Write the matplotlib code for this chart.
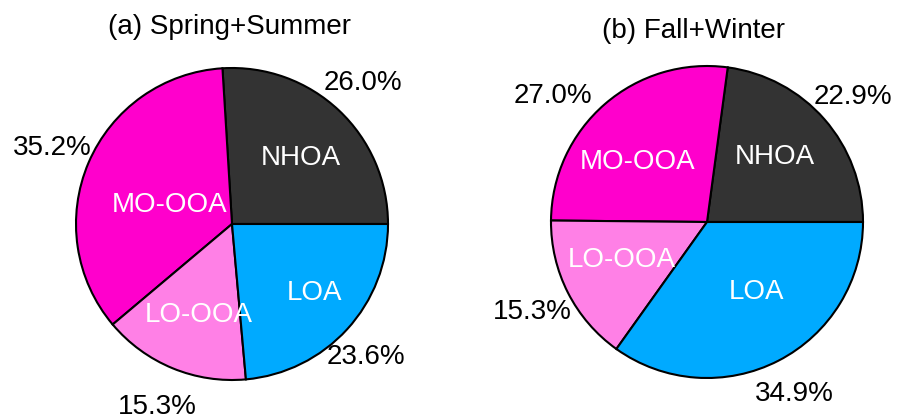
import matplotlib.pyplot as plt
import numpy as np

plt.rcParams['font.family'] = ['Liberation Sans', 'DejaVu Sans']

# factor names, drawn counterclockwise from 3 o'clock
factors = ['NHOA', 'MO-OOA', 'LO-OOA', 'LOA']
spring_summer = [26.0, 35.2, 15.3, 23.6]
fall_winter = [22.9, 27.0, 15.3, 34.9]
titles = ['(a) Spring+Summer', '(b) Fall+Winter']

colors = ['#333333', '#FF00CC', '#FF80E6', '#00AAFF']

# label placement (angle in degrees, radius in pie radii)
name_pos = [
    [(43.7, 0.61), (163, 0.42), (250, 0.62), (320.3, 0.69)],
    [(43.7, 0.60), (139.4, 0.59), (203.8, 0.60), (305.5, 0.55)],
]
pct_pos = [
    [(47.1, 1.23), (157.1, 1.25), (247.7, 1.27), (315.4, 1.21)],
    [(40.6, 1.23), (140.7, 1.28), (207.2, 1.26), (297, 1.24)],
]

W, H = 906, 420
R = 156  # pie radius in px
centers = [(232, 224), (707, 222)]
title_xy = [(229, 27), (693, 31)]
ext = 1.45

fig = plt.figure(figsize=(W / 100, H / 100), dpi=100)

for k, vals in enumerate([spring_summer, fall_winter]):
    cx, cy = centers[k]
    ax = fig.add_axes([(cx - ext * R) / W, (H - cy - ext * R) / H,
                       2 * ext * R / W, 2 * ext * R / H])
    ax.pie(vals, colors=colors, startangle=0, counterclock=True,
           wedgeprops=dict(edgecolor='black', linewidth=1.5))
    ax.set_xlim(-ext, ext)
    ax.set_ylim(-ext, ext)
    ax.axis('off')
    for i, name in enumerate(factors):
        a, r = name_pos[k][i]
        t = np.deg2rad(a)
        ax.text(r * np.cos(t), r * np.sin(t), name, color='white',
                fontsize=20, ha='center', va='center')
        a, r = pct_pos[k][i]
        t = np.deg2rad(a)
        ax.text(r * np.cos(t), r * np.sin(t), '%.1f%%' % vals[i],
                color='black', fontsize=20, ha='center', va='center',
                clip_on=False)
    tx, ty = title_xy[k]
    fig.text(tx / W, 1 - ty / H, titles[k], fontsize=20,
             ha='center', va='center')

fig.savefig('out.png', dpi=100)
